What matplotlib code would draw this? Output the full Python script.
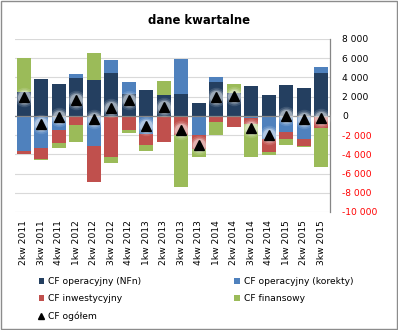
import numpy as np
import matplotlib
matplotlib.use("Agg")
import matplotlib.pyplot as plt
from matplotlib.patches import Rectangle
from matplotlib.lines import Line2D

# kwartały
kwartaly = ["2kw 2011", "3kw 2011", "4kw 2011", "1kw 2012", "2kw 2012", "3kw 2012",
            "4kw 2012", "1kw 2013", "2kw 2013", "3kw 2013", "4kw 2013", "1kw 2014",
            "2kw 2014", "3kw 2014", "4kw 2014", "1kw 2015", "2kw 2015", "3kw 2015"]

# wartości
cf_nfn = [2500, 3830, 3300, 3930, 3720, 4450, 2250, 2680, 2180,
          2260, 1320, 3515, 2370, 3100, 2160, 3200, 2890, 4450]
cf_korekty = [-3690, -3340, -1460, 420, -3130, 1360, 1300, -1845, 0,
              3650, -2020, 520, 0, -210, -2370, -1670, -2435, 625]
cf_inwest = [-280, -1115, -1390, -975, -3760, -4315, -1420, -1220, -2770,
             -1980, -1390, -660, -1180, -590, -1390, -765, -700, -1250]
cf_finans = [3515, -140, -490, -1740, 2820, -590, -400, -590, 1460,
             -5380, -870, -1360, 940, -3480, -350, -630, -140, -4070]
cf_ogolem = [1980, -800, -100, 1700, -350, 800, 1640, -1040, 870,
             -1500, -3060, 1980, 2050, -1220, -1950, 0, -350, -200]

serie = [("CF operacyjny (NFn)", cf_nfn, "#243F60"),
         ("CF operacyjny (korekty)", cf_korekty, "#4F81BD"),
         ("CF inwestycyjny", cf_inwest, "#C0504D"),
         ("CF finansowy", cf_finans, "#9BBB59")]

fs = 6.6
fig = plt.figure(figsize=(3.98, 3.30), dpi=100)
ax = fig.add_axes([0.0377, 0.3576, 0.7913, 0.5244])

x = np.arange(len(kwartaly))
pos_base = np.zeros(len(x))
neg_base = np.zeros(len(x))
uchwyty = {}
for nazwa, vals, kolor in serie:
    v = np.array(vals, dtype=float)
    base = np.where(v >= 0, pos_base, neg_base)
    b = ax.bar(x, v, 0.8, bottom=base, color=kolor, zorder=3, label=nazwa)
    uchwyty[nazwa] = b
    pos_base = pos_base + np.where(v >= 0, v, 0)
    neg_base = neg_base + np.where(v < 0, v, 0)

# trójkąty z poświatą
for ms, a in [(14, 0.12), (11.5, 0.22), (9.5, 0.35)]:
    ax.plot(x, cf_ogolem, linestyle="none", marker="o", ms=ms, color="white",
            alpha=a, mec="none", zorder=4)
ax.plot(x, cf_ogolem, linestyle="none", marker="^", ms=7, color="black", zorder=5)
tri = Line2D([], [], linestyle="none", marker="^", ms=5, color="black")

ax.set_xlim(-0.5, len(x) - 0.5)
ax.set_ylim(-10000, 8000)
ax.set_yticks(np.arange(-10000, 8001, 2000))
ax.yaxis.tick_right()
ax.set_yticklabels([f"{t:,}".replace(",", " ") for t in range(-10000, 8001, 2000)])
for lab, t in zip(ax.get_yticklabels(), range(-10000, 8001, 2000)):
    lab.set_color("red" if t < 0 else "black")
ax.tick_params(axis="y", length=0, pad=9, labelsize=fs)
ax.set_xticks(x)
ax.set_xticklabels(kwartaly, rotation=90, fontsize=fs)
ax.tick_params(axis="x", length=0, pad=6)

ax.grid(axis="y", color="#D9D9D9", lw=0.8, zorder=0)
ax.axhline(0, color="#868686", lw=0.9, zorder=3.5)
for s in ["top", "left", "bottom"]:
    ax.spines[s].set_visible(False)
ax.spines["right"].set_color("#868686")
ax.spines["right"].set_linewidth(0.9)

fig.text(0.5, 1 - 20 / 330, "dane kwartalne", ha="center", va="center",
         fontsize=8.4, fontweight="bold")

h = [uchwyty["CF operacyjny (NFn)"], uchwyty["CF inwestycyjny"], tri,
     uchwyty["CF operacyjny (korekty)"], uchwyty["CF finansowy"]]
l = ["CF operacyjny (NFn)", "CF inwestycyjny", "CF ogółem",
     "CF operacyjny (korekty)", "CF finansowy"]
fig.legend(h, l, loc="upper left", bbox_to_anchor=(0.097, 0.16), ncol=2,
           frameon=False, fontsize=fs, handlelength=0.6, handleheight=0.6,
           handletextpad=0.4, columnspacing=10.2, labelspacing=0.9, borderpad=0,
           borderaxespad=0)

fig.patches.append(Rectangle((0.002, 0.003), 0.995, 0.994, transform=fig.transFigure,
                             fill=False, edgecolor="#8C8C8C", lw=1))

fig.savefig("out.png", dpi=100)
